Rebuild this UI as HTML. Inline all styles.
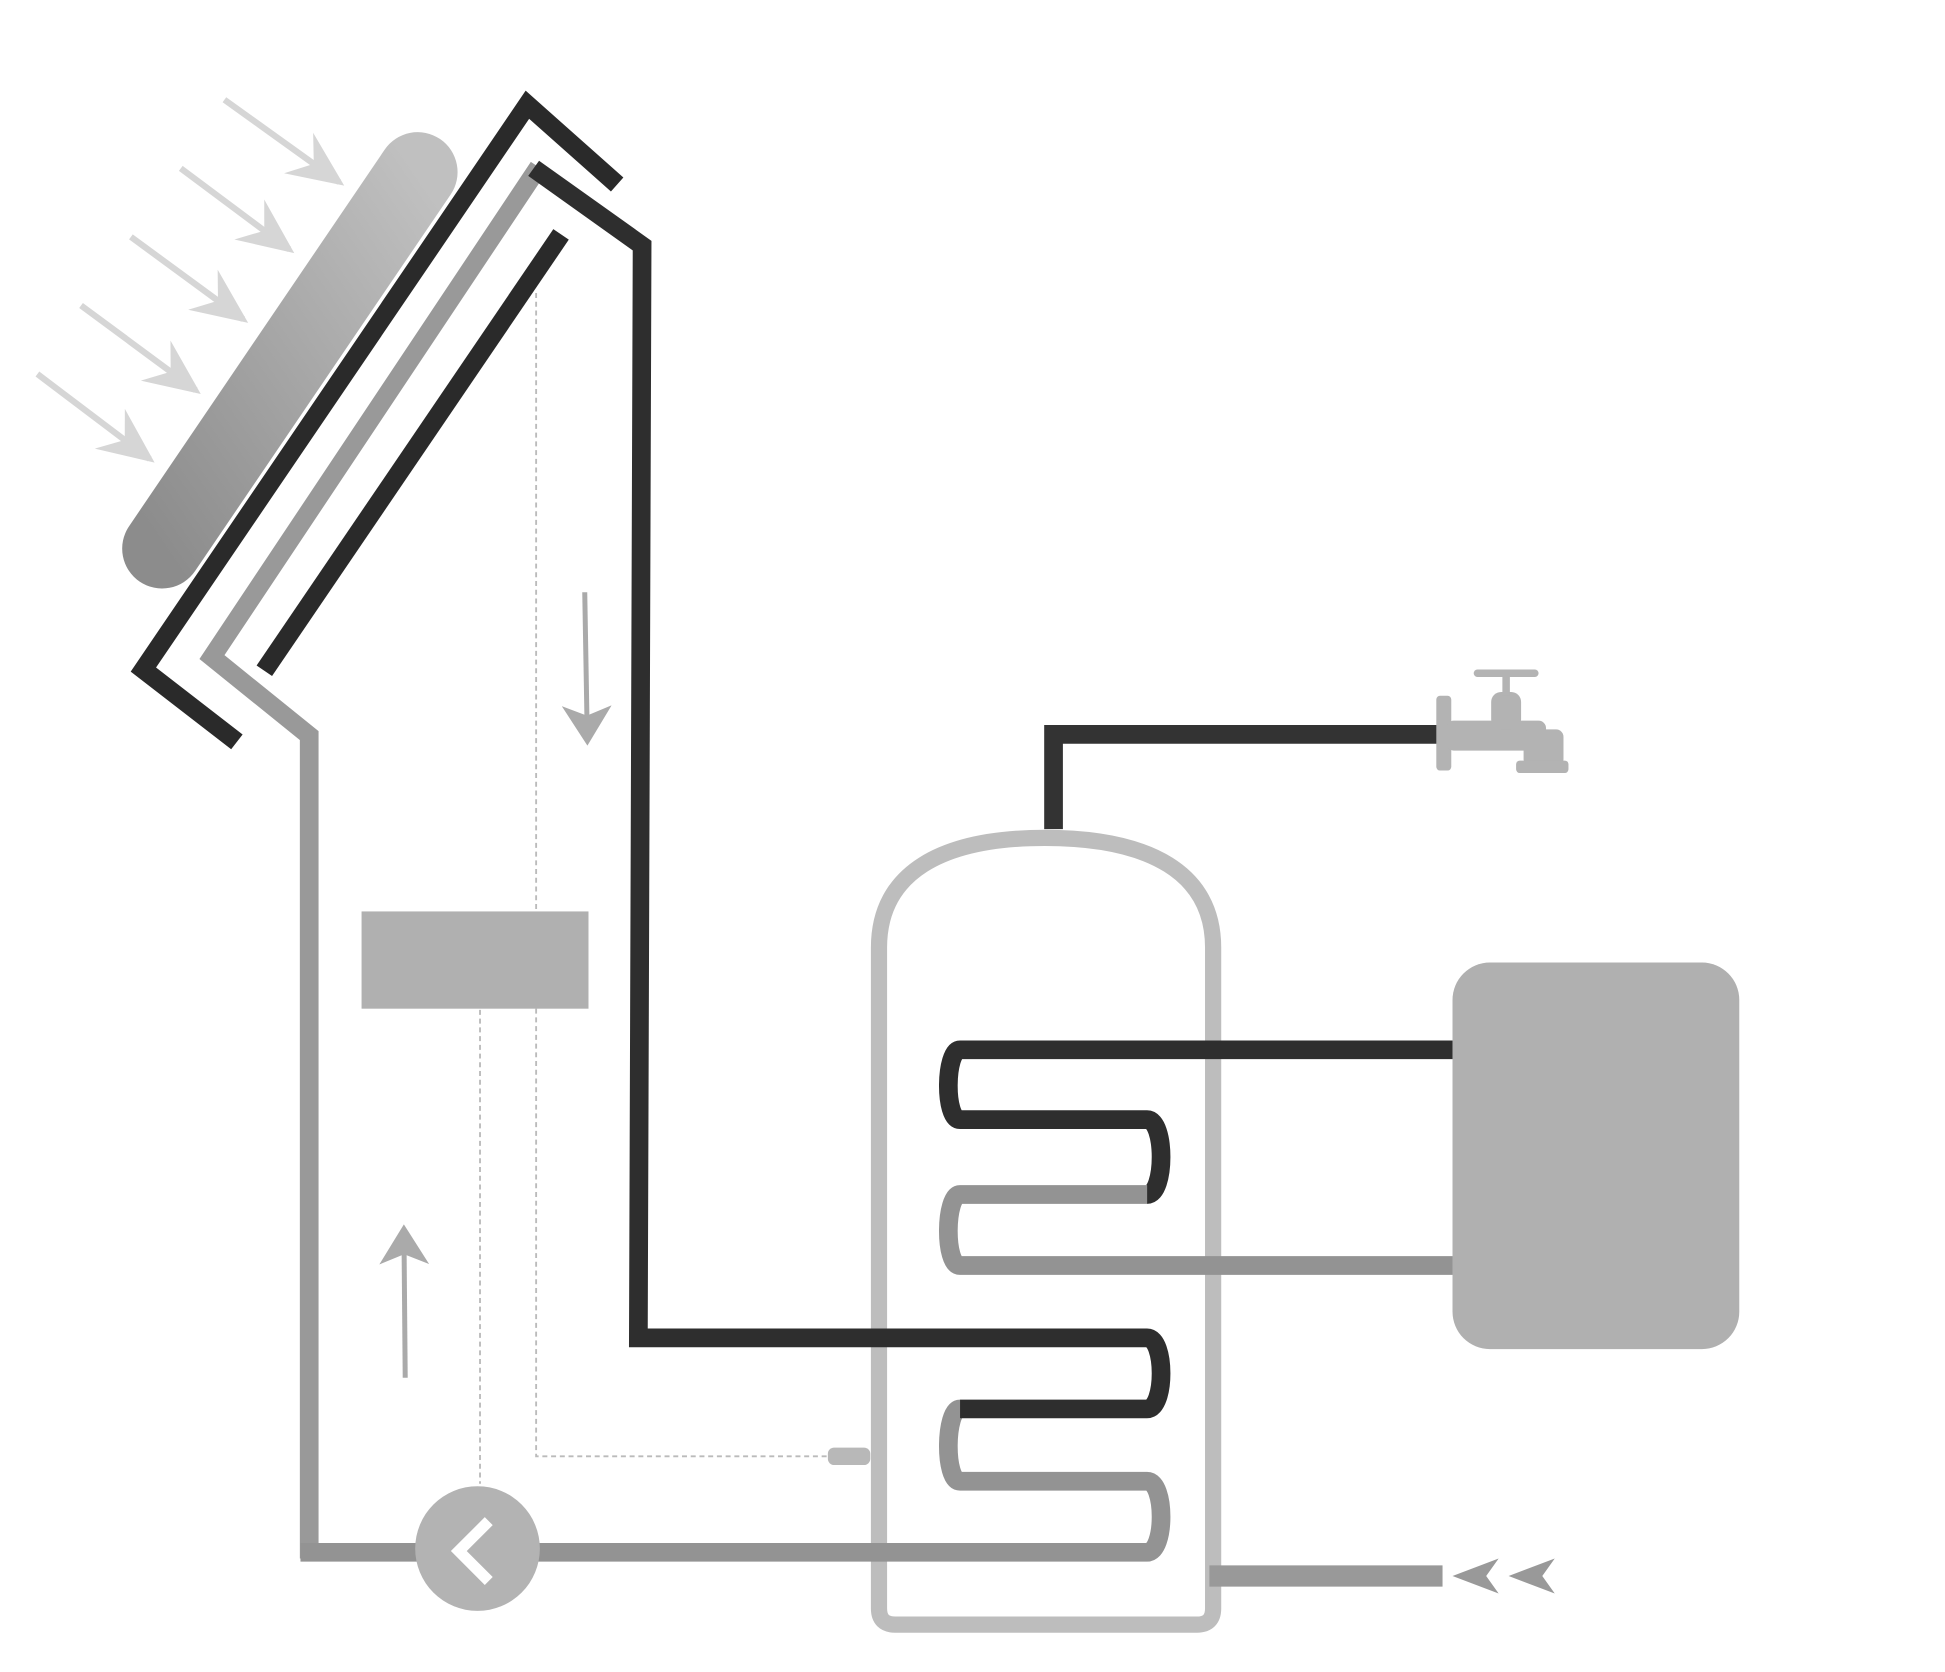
<!DOCTYPE html>
<html><head><style>html,body{margin:0;padding:0;background:#fff;}svg{display:block}</style></head>
<body>
<svg width="1945" height="1672" viewBox="0 0 1560 1341" preserveAspectRatio="none" xmlns="http://www.w3.org/2000/svg">
<defs>
<linearGradient id="cg" x1="1" y1="0" x2="0" y2="1">
<stop offset="0" stop-color="#c0c0c0"/><stop offset="1" stop-color="#8c8c8c"/></linearGradient>
<marker id="sa" markerWidth="10" markerHeight="10" refX="8" refY="5" orient="auto" markerUnits="strokeWidth">
<path d="M0,1 L9,5 L0,9 L3,5 Z" fill="#d6d6d6"/></marker>
<marker id="ga" markerWidth="8" markerHeight="10" refX="6" refY="5" orient="auto" markerUnits="strokeWidth">
<path d="M0,0 L8,5 L0,10 L2,5 Z" fill="#aaa"/></marker>
</defs>
<g stroke="#d6d6d6" stroke-width="5" fill="none">
<line x1="180" y1="80" x2="272" y2="146" marker-end="url(#sa)"/>
<line x1="145" y1="135" x2="232" y2="200" marker-end="url(#sa)"/>
<line x1="105" y1="190" x2="195" y2="256" marker-end="url(#sa)"/>
<line x1="65" y1="245" x2="157" y2="313" marker-end="url(#sa)"/>
<line x1="30" y1="300" x2="120" y2="368" marker-end="url(#sa)"/>
</g>
<line x1="130" y1="440" x2="335" y2="138" stroke="url(#cg)" stroke-width="64" stroke-linecap="round"/>
<polyline points="190,595 115,537 423,84 495,148" fill="none" stroke="#2a2a2a" stroke-width="15"/>
<line x1="212" y1="538" x2="450" y2="188" stroke="#2a2a2a" stroke-width="15"/>
<g stroke="#bbb" stroke-width="1.5" stroke-dasharray="4,3" fill="none">
<polyline points="430,235 430,1168 665,1168"/>
<line x1="385" y1="810" x2="385" y2="1190"/>
</g>
<!-- tank (behind pipes) -->
<path d="M705,1290 V760 C705,700 755,672 838,672 C922,672 973,700 973,760 V1290 Q973,1303 960,1303 H718 Q705,1303 705,1290 Z" fill="none" stroke="#bdbdbd" stroke-width="13"/>
<polyline points="248,1250 248,590 170,527 432,134" fill="none" stroke="#999" stroke-width="15"/>
<path d="M770,1130 C758,1130 757,1188 770,1188 H920 C935,1188 935,1245 920,1245 H241" fill="none" stroke="#939393" stroke-width="15"/>
<path d="M428,135 L515,197 L512,1073 H920 C935,1073 935,1130 920,1130 H770" fill="none" stroke="#2e2e2e" stroke-width="15" stroke-linejoin="miter"/>
<rect x="664" y="1161" width="34" height="14" rx="5" fill="#b8b8b8"/>
<polyline points="845,665 845,589 1157,589" fill="none" stroke="#333" stroke-width="15"/>
<g fill="#b3b3b3">
<rect x="1152" y="558" width="12" height="60" rx="3"/>
<rect x="1160" y="578" width="80" height="24" rx="6"/>
<rect x="1222" y="585" width="32" height="30" rx="6"/>
<rect x="1216" y="610" width="42" height="10" rx="3"/>
<rect x="1196" y="555" width="24" height="30" rx="8"/>
<rect x="1205" y="542" width="6" height="16"/>
<rect x="1182" y="537" width="52" height="6" rx="3"/>
</g>
<path d="M1165,842 H770 C758,842 757,898 770,898 H920 C935,898 935,958 920,958" fill="none" stroke="#2e2e2e" stroke-width="15"/>
<path d="M920,958 H770 C758,958 757,1015 770,1015 H1165" fill="none" stroke="#939393" stroke-width="15"/>
<rect x="1165" y="772" width="230" height="310" rx="30" fill="#b0b0b0"/>
<rect x="290" y="731" width="182" height="78" fill="#b0b0b0"/>
<line x1="469" y1="475" x2="471" y2="590" stroke="#aaa" stroke-width="4" marker-end="url(#ga)"/>
<line x1="325" y1="1105" x2="324" y2="990" stroke="#aaa" stroke-width="4" marker-end="url(#ga)"/>
<circle cx="383" cy="1242" r="50" fill="#b3b3b3"/>
<polyline points="392,1220 368,1244 392,1268" fill="none" stroke="#fff" stroke-width="9"/>
<line x1="970" y1="1264" x2="1157" y2="1264" stroke="#999" stroke-width="17"/>
<g fill="#999">
<path d="M1165,1264 L1202,1250 L1192,1264 L1202,1278 Z"/>
<path d="M1210,1264 L1247,1250 L1237,1264 L1247,1278 Z"/>
</g>
</svg>
</body></html>
